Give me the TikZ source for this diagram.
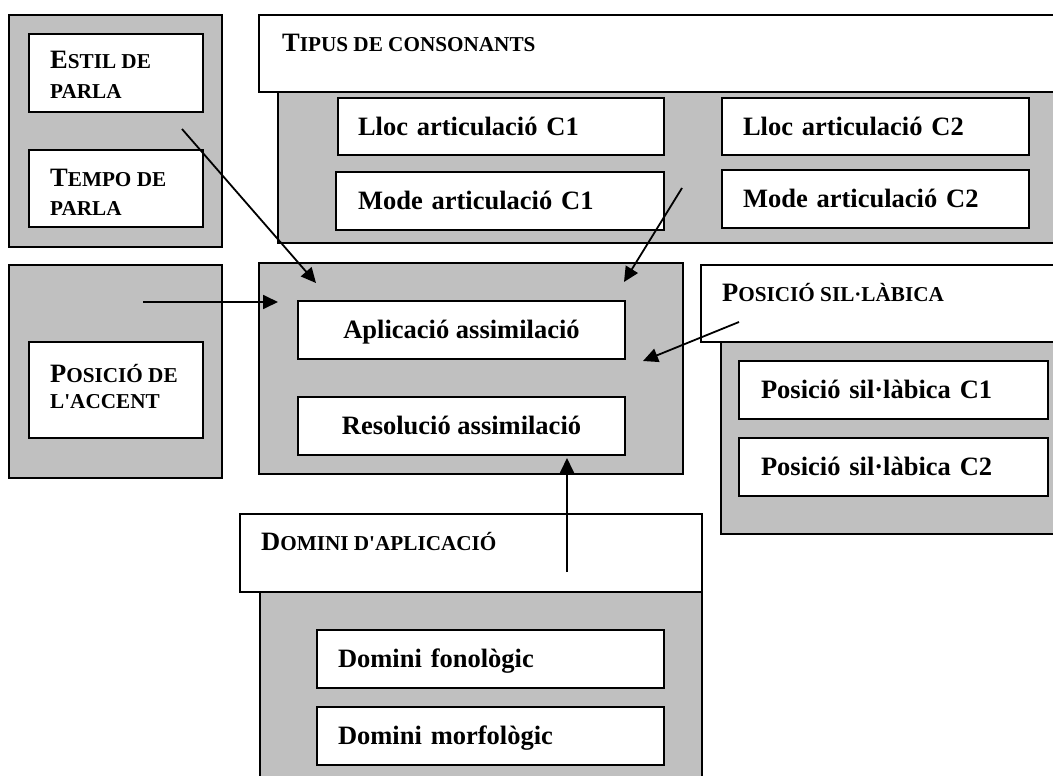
\documentclass[tikz,border=0pt]{standalone}
\usepackage{fontspec}
\setmainfont{Liberation Serif}
\usetikzlibrary{arrows.meta}
\definecolor{panelgray}{HTML}{C0C0C0}
% type sizes: full capitals and the reduced capitals used as small caps
\newcommand\capsz{\fontsize{26.5pt}{30pt}\selectfont}
\newcommand\smcsz{\fontsize{21.2pt}{30pt}\selectfont}
\newcommand\fakesc[2]{{\capsz #1}{\smcsz #2}}
\newcommand\apos{\textquotesingle}
\tikzset{
  panel/.style={draw=black, line width=2pt, fill=panelgray, inner sep=0pt,
    anchor=north west},
  header/.style={draw=black, line width=2pt, fill=white, inner sep=0pt,
    anchor=north west},
  card/.style={draw=black, line width=2pt, fill=white, inner sep=0pt,
    anchor=north west, font=\capsz\bfseries, text height=17.5pt, text depth=0pt},
  cardl/.style={card, align=left, inner xsep=#1},
  cardl/.default=21pt,
  caption/.style={inner sep=0pt, anchor=base west, font=\bfseries},
  link/.style={line width=1.8pt, -{Triangle[length=15pt,width=14pt]}}
}
\begin{document}
\begin{tikzpicture}[x=1pt,y=-1pt]
\useasboundingbox (0,0) rectangle (1053,776);
\clip (0,0) rectangle (1053,776);

% ---- speaking style / tempo
\node[panel, minimum width=213pt, minimum height=232pt] (speech) at (8,14) {};
\node[header, minimum width=174pt, minimum height=78pt] (estil) at (28,33) {};
\node[header, minimum width=174pt, minimum height=77pt] (tempo) at (28,149) {};
\node[caption] (estil-a) at (50,69) {\fakesc{E}{STIL DE}};
\node[caption] (estil-b) at (50,99) {\smcsz PARLA};
\node[caption] (tempo-a) at (50,186) {\fakesc{T}{EMPO DE}};
\node[caption] (tempo-b) at (50,215) {\smcsz PARLA};

% ---- stress position
\node[panel, minimum width=213pt, minimum height=213pt] (stress) at (8,264) {};
\node[header, minimum width=174pt, minimum height=96pt] (accent) at (28,341) {};
\node[caption] (accent-a) at (50,382) {\fakesc{P}{OSICIÓ DE}};
\node[caption] (accent-b) at (50,408) {\smcsz L\apos ACCENT};

% ---- consonant types
\node[panel, minimum width=800pt, minimum height=151pt] (cons) at (277,91) {};
\node[header, minimum width=820pt, minimum height=77pt] (cons-h) at (258,14) {};
\node[caption] (cons-t) at (282,52) {\fakesc{T}{IPUS DE CONSONANTS}};
\node[cardl=20pt, minimum width=326pt, minimum height=57pt, text width=286pt] (lloc1) at (337,97) {Lloc articulació C1};
\node[cardl=22pt, minimum width=328pt, minimum height=58pt, text width=284pt] (mode1) at (335,171) {Mode articulació C1};
\node[cardl, minimum width=307pt, minimum height=57pt, text width=265pt] (lloc2) at (721,97) {Lloc articulació C2};
\node[cardl, minimum width=307pt, minimum height=58pt, text width=265pt] (mode2) at (721,169) {Mode articulació C2};

% ---- assimilation (centre)
\node[panel, minimum width=424pt, minimum height=211pt] (assim) at (258,262) {};
\node[card, minimum width=327pt, minimum height=58pt] (aplic) at (297,300) {Aplicació assimilació};
\node[card, minimum width=327pt, minimum height=58pt] (resol) at (297,396) {Resolució assimilació};

% ---- syllabic position
\node[panel, minimum width=360pt, minimum height=192pt] (syl) at (720,341) {};
\node[header, minimum width=380pt, minimum height=77pt] (syl-h) at (700,264) {};
\node[caption] (syl-t) at (722,301) {\fakesc{P}{OSICIÓ SIL·LÀBICA}};
\node[cardl=22pt, minimum width=309pt, minimum height=58pt, text width=265pt] (syl1) at (738,360) {Posició sil·làbica C1};
\node[cardl=22pt, minimum width=309pt, minimum height=58pt, text width=265pt] (syl2) at (738,437) {Posició sil·làbica C2};

% ---- domain of application
\node[panel, minimum width=442pt, minimum height=220pt] (dom) at (259,591) {};
\node[header, minimum width=462pt, minimum height=78pt] (dom-h) at (239,513) {};
\node[caption] (dom-t) at (261,550) {\fakesc{D}{OMINI D\apos APLICACIÓ}};
\node[cardl, minimum width=347pt, minimum height=58pt, text width=305pt] (fono) at (316,629) {Domini fonològic};
\node[cardl, minimum width=347pt, minimum height=58pt, text width=305pt] (morf) at (316,706) {Domini morfològic};

% ---- influences on the assimilation
\coordinate (s-speech) at (182,129);
\coordinate (e-speech) at (316,283);
\coordinate (s-cons) at (682,188);
\coordinate (e-cons) at (624,282);
\coordinate (s-stress) at (143,302);
\coordinate (e-stress) at (278,302);
\coordinate (s-syl) at (739,322);
\coordinate (e-syl) at (643,361);
\coordinate (s-dom) at (567,572);
\coordinate (e-dom) at (567,458);
\draw[link] (s-speech) -- (e-speech);
\draw[link] (s-cons) -- (e-cons);
\draw[link] (s-stress) -- (e-stress);
\draw[link] (s-syl) -- (e-syl);
\draw[link] (s-dom) -- (e-dom);
\end{tikzpicture}
\end{document}
